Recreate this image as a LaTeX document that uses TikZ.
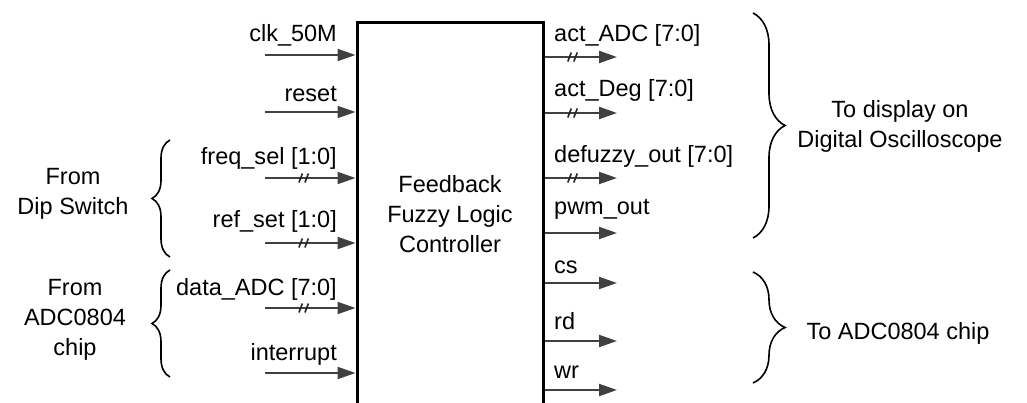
\documentclass[tikz,border=0pt]{standalone}
\usepackage{fontspec}
\setmainfont{Liberation Sans}
\usetikzlibrary{arrows.meta,positioning,decorations.pathreplacing}
\definecolor{sigGray}{HTML}{404040}

\begin{document}
\begin{tikzpicture}[
    x=1pt,
    y=-1pt,
    font=\fontsize{23.5}{30}\selectfont,
    flcbox/.style={rectangle, draw=black, line width=3pt, minimum width=186pt, minimum height=382pt, align=center, inner sep=0pt},
    sig/.style={-{Triangle[length=18pt,width=12pt]}, line width=2pt, draw=sigGray},
    inlab/.style={anchor=base east, inner sep=0pt},
    outlab/.style={anchor=base west, inner sep=0pt},
    side/.style={align=center, inner sep=0pt},
    rbrace/.style={decorate, decoration={brace, amplitude=32pt}, line width=1.6pt},
    lbrace/.style={decorate, decoration={brace, amplitude=18pt}, line width=1.6pt},
    bus/.pic={\draw[-, line width=1.6pt, black!85] (-5,4.5) -- (-1.5,-4.5) (1,4.5) -- (4.5,-4.5);}
  ]
    \useasboundingbox (0,0) rectangle (1027,403);
    \clip (0,0) rectangle (1027,403);

    % controller block (runs off the bottom edge)
    \node[flcbox] (flc) at (450,214) {Feedback\\Fuzzy Logic\\Controller};

    % inputs
    \node[inlab] (clk) at (337,42) {clk\_50M};
    \node[inlab] (rst) at (337,102) {reset};
    \node[inlab] (freq) at (337,165) {freq\_sel [1:0]};
    \node[inlab] (ref) at (337,228) {ref\_set [1:0]};
    \node[inlab] (data) at (337,295) {data\_ADC [7:0]};
    \node[inlab] (intr) at (337,360) {interrupt};

    \coordinate (clk-in) at (265,55);
    \coordinate (rst-in) at (265,112);
    \coordinate (freq-in) at (265,178);
    \coordinate (ref-in) at (265,243);
    \coordinate (data-in) at (265,308);
    \coordinate (intr-in) at (265,373);

    \draw[sig] (clk-in) -- (clk-in -| flc.west);
    \draw[sig] (rst-in) -- (rst-in -| flc.west);
    \draw[sig] (freq-in) -- pic[pos=0.43]{bus} (freq-in -| flc.west);
    \draw[sig] (ref-in) -- pic[pos=0.43]{bus} (ref-in -| flc.west);
    \draw[sig] (data-in) -- pic[pos=0.43]{bus} (data-in -| flc.west);
    \draw[sig] (intr-in) -- (intr-in -| flc.west);

    % outputs
    \node[outlab] (actadc) at (554,42) {act\_ADC [7:0]};
    \node[outlab] (actdeg) at (554,97) {act\_Deg [7:0]};
    \node[outlab] (defz) at (554,163) {defuzzy\_out [7:0]};
    \node[outlab] (pwm) at (554,215) {pwm\_out};
    \node[outlab] (cs) at (554,273) {cs};
    \node[outlab] (rd) at (554,329) {rd};
    \node[outlab] (wr) at (554,378) {wr};

    \coordinate (actadc-out) at (617,57);
    \coordinate (actdeg-out) at (617,113);
    \coordinate (defz-out) at (617,178);
    \coordinate (pwm-out) at (617,233);
    \coordinate (cs-out) at (617,283);
    \coordinate (rd-out) at (617,341);
    \coordinate (wr-out) at (617,390);

    \draw[sig] (flc.east |- actadc-out) -- pic[pos=0.39]{bus} (actadc-out);
    \draw[sig] (flc.east |- actdeg-out) -- pic[pos=0.39]{bus} (actdeg-out);
    \draw[sig] (flc.east |- defz-out) -- pic[pos=0.39]{bus} (defz-out);
    \draw[sig] (flc.east |- pwm-out) -- (pwm-out);
    \draw[sig] (flc.east |- cs-out) -- (cs-out);
    \draw[sig] (flc.east |- rd-out) -- (rd-out);
    \draw[sig] (flc.east |- wr-out) -- (wr-out);

    % sources and destinations
    \node[side] (dip) at (73,194) {From\\Dip Switch};
    \node[side] (adcsrc) at (75,320) {From\\ADC0804\\chip};
    \node[side] (scope) at (900,126) {To display on\\Digital Oscilloscope};
    \node[side] (adcdst) at (898,333) {To ADC0804 chip};

    \draw[lbrace] (170,257) -- (170,140);
    \draw[lbrace] (170,377) -- (170,270);
    \draw[rbrace] (753,13) -- (753,238);
    \draw[rbrace] (753,272) -- (753,383);
  \end{tikzpicture}
\end{document}
